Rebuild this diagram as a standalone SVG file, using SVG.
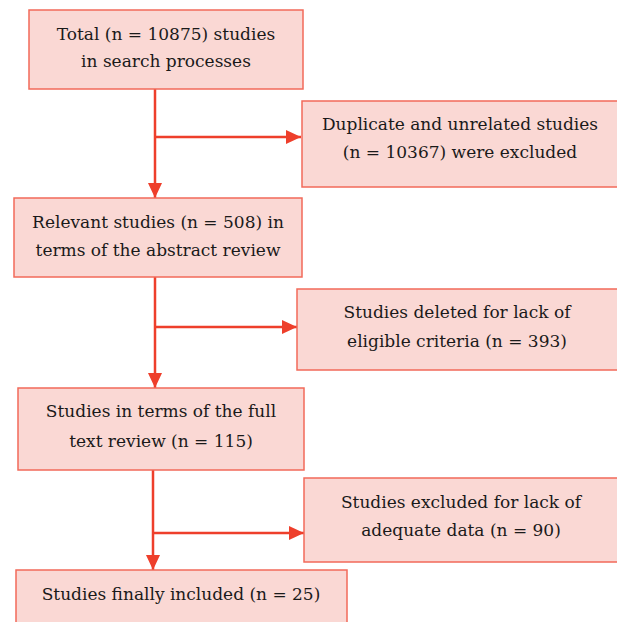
<svg xmlns="http://www.w3.org/2000/svg" width="617" height="622" viewBox="0 0 617 622">
<style>
.box{fill:#fad8d4;stroke:#f26a5a;stroke-width:1.5}
.c{fill:none;stroke:#ee3f2b;stroke-width:2.5}
</style>
<defs>
<marker id="ah" markerUnits="userSpaceOnUse" markerWidth="16" markerHeight="16" viewBox="0 0 16 16" refX="15" refY="8" orient="auto">
<path d="M0,1 L15,8 L0,15 Z" fill="#ee3f2b"/>
</marker>
</defs>
<rect width="617" height="622" fill="#ffffff"/>
<g id="connectors">
<line class="c" x1="155" y1="89" x2="155" y2="198" marker-end="url(#ah)"/>
<line class="c" x1="155" y1="137" x2="301" y2="137" marker-end="url(#ah)"/>
<line class="c" x1="155" y1="277" x2="155" y2="388" marker-end="url(#ah)"/>
<line class="c" x1="155" y1="327" x2="297" y2="327" marker-end="url(#ah)"/>
<line class="c" x1="153" y1="470" x2="153" y2="570" marker-end="url(#ah)"/>
<line class="c" x1="153" y1="533" x2="304" y2="533" marker-end="url(#ah)"/>
</g>
<g font-family="DejaVu Serif, serif" font-size="17" fill="#1a1a1a" text-anchor="middle">
<g id="n1">
<rect class="box" x="29" y="10" width="274" height="79"/>
<text x="166" y="40">Total (n = 10875) studies</text>
<text x="166" y="67">in search processes</text>
</g>
<g id="n2">
<rect class="box" x="302" y="101" width="320" height="86"/>
<text x="460" y="130">Duplicate and unrelated studies</text>
<text x="460" y="158">(n = 10367) were excluded</text>
</g>
<g id="n3">
<rect class="box" x="14" y="198" width="288" height="79"/>
<text x="158" y="228">Relevant studies (n = 508) in</text>
<text x="158" y="256">terms of the abstract review</text>
</g>
<g id="n4">
<rect class="box" x="297" y="289" width="325" height="81"/>
<text x="457" y="318">Studies deleted for lack of</text>
<text x="457" y="347">eligible criteria (n = 393)</text>
</g>
<g id="n5">
<rect class="box" x="18" y="388" width="286" height="82"/>
<text x="161" y="417">Studies in terms of the full</text>
<text x="161" y="447">text review (n = 115)</text>
</g>
<g id="n6">
<rect class="box" x="304" y="478" width="318" height="84"/>
<text x="461" y="508">Studies excluded for lack of</text>
<text x="461" y="536">adequate data (n = 90)</text>
</g>
<g id="n7">
<rect class="box" x="16" y="570" width="331" height="60"/>
<text x="181" y="600">Studies finally included (n = 25)</text>
</g>
</g>
</svg>
